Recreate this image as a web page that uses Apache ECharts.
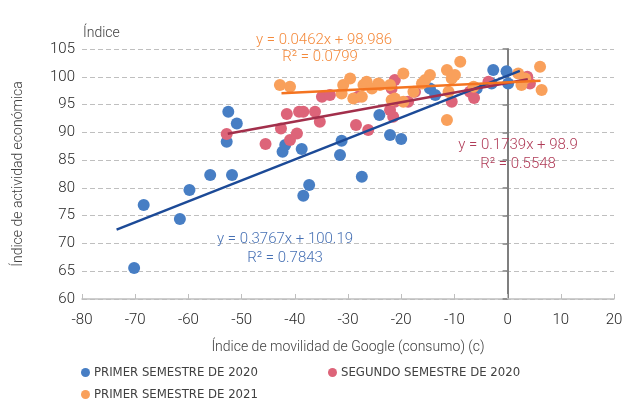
<!DOCTYPE html>
<html>
<head>
<meta charset="utf-8">
<script src="https://cdn.jsdelivr.net/npm/echarts@6/dist/echarts.min.js"></script>
<style>
html, body {
  margin: 0;
  padding: 0;
  background: #fff;
}
#chart {
  width: 626px;
  height: 403px;
}
</style>
</head>
<body>
<div id="chart"></div>
<script>
// puntos: [movilidad, indice]
const primer2020 = [
  [-70.2, 65.6], [-68.4, 76.9], [-61.6, 74.4], [-59.8, 79.6], [-55.9, 82.3],
  [-51.8, 82.3], [-52.5, 93.7], [-50.9, 91.6], [-52.8, 88.3], [-42.3, 86.5],
  [-41.8, 87.7], [-38.7, 87.0], [-37.3, 80.5], [-38.4, 78.6], [-31.2, 88.5],
  [-31.5, 85.9], [-27.4, 82.0], [-24.1, 93.1], [-22.1, 89.5], [-20.0, 88.8],
  [-14.6, 97.9], [-13.6, 96.7], [-5.8, 97.9], [-2.7, 101.2], [-0.2, 101.0],
  [0.1, 98.8], [-3.0, 98.8]
]
const segundo2020 = [
  [-52.8, 89.7], [-45.5, 87.9], [-42.6, 90.7], [-41.5, 93.3], [-40.9, 88.6],
  [-39.6, 89.8], [-39.2, 93.7], [-38.4, 93.7], [-36.2, 93.7], [-35.3, 91.9],
  [-34.9, 96.4], [-33.4, 96.7], [-28.5, 91.3], [-28.1, 96.4], [-26.2, 90.4],
  [-22.1, 94.0], [-21.8, 97.9], [-21.2, 99.4], [-21.2, 95.5], [-21.5, 92.8],
  [-18.7, 95.5], [-17.4, 97.3], [-10.5, 95.5], [-7.1, 97.3], [-6.3, 96.2],
  [-3.6, 99.1], [3.7, 100.0], [4.2, 98.8]
]
const primer2021 = [
  [-42.8, 98.5], [-40.9, 98.2], [-31.2, 97.0], [-30.9, 98.5], [-29.6, 99.7],
  [-29.0, 96.1], [-27.4, 96.4], [-27.1, 98.5], [-26.5, 99.1], [-25.5, 97.9],
  [-24.3, 98.8], [-24.0, 98.5], [-22.1, 98.5], [-21.8, 95.8], [-21.2, 96.1],
  [-19.6, 100.6], [-19.6, 95.5], [-17.7, 97.3], [-16.1, 98.8], [-15.5, 99.4],
  [-14.6, 100.3], [-11.4, 101.2], [-10.5, 99.7], [-11.1, 97.3], [-11.4, 92.2],
  [-9.9, 100.3], [-8.9, 102.7], [-6.4, 98.2], [2.0, 100.6], [2.6, 98.5],
  [3.3, 99.7], [6.1, 101.8], [6.4, 97.6]
]

const seriesNames = ['PRIMER SEMESTRE DE 2020', 'SEGUNDO SEMESTRE DE 2020', 'PRIMER SEMESTRE DE 2021']

// lineas de tendencia: [pendiente, ordenada, x inicial, x final]
const trend2020a = [0.3767, 100.19, -73.5, 2.3]
const trend2020b = [0.1739, 98.9, -52.6, 3.8]
const trend2021a = [0.0462, 98.986, -42.5, 6.2]

const xTicks = { min: -80, max: 20, interval: 10 }
const yTicks = { min: 60, max: 105, interval: 5 }

const font = "Roboto, 'Liberation Sans', sans-serif"
const narrow = "'Liberation Sans Narrow', 'DejaVu Sans Condensed', Roboto, sans-serif"

function trendLine (t) {
  return [[t[2], t[0] * t[2] + t[1]], [t[3], t[0] * t[3] + t[1]]]
}

function legendAt (name, left, top) {
  return {
    data: [name],
    left: left,
    top: top,
    icon: 'circle',
    itemWidth: 9,
    itemHeight: 9,
    itemGap: 6,
    selectedMode: false,
    textStyle: { fontFamily: narrow, fontSize: 13, color: '#404040', padding: [0, 0, 0, -1] }
  }
}

function scatter (name, data, color) {
  return {
    name: name,
    type: 'scatter',
    data: data,
    symbolSize: 12,
    itemStyle: { color: color, opacity: 1 },
    z: 2
  }
}

function line (data, color) {
  return {
    type: 'line',
    data: data,
    showSymbol: false,
    symbol: 'none',
    lineStyle: { color: color, width: 2.5 },
    z: 5,
    silent: true
  }
}

function note (text, x, y, color) {
  return {
    type: 'text',
    x: x,
    y: y,
    style: {
      text: text,
      fill: color,
      font: '300 15px ' + font,
      align: 'center',
      verticalAlign: 'middle'
    },
    z: 10
  }
}

const chart = echarts.init(document.getElementById('chart'))
chart.setOption({
  animation: false,
  grid: { left: 82, right: 12, top: 49, bottom: 104 },
  legend: [
    legendAt(seriesNames[0], 76, 361),
    legendAt(seriesNames[1], 323, 361),
    legendAt(seriesNames[2], 76, 383)
  ],
  xAxis: {
    type: 'value',
    min: xTicks.min,
    max: xTicks.max,
    interval: xTicks.interval,
    name: 'Índice de movilidad de Google (consumo) (c)',
    nameLocation: 'middle',
    nameGap: 41,
    nameTextStyle: { fontFamily: font, fontWeight: 300, fontSize: 14, color: '#404040' },
    axisLine: { onZero: false, lineStyle: { color: '#bfbfbf', width: 1.5 } },
    axisTick: { show: true, inside: true, length: 5, lineStyle: { color: '#bfbfbf' } },
    axisLabel: { fontFamily: font, fontWeight: 300, fontSize: 15, color: '#262626', margin: 14 },
    splitLine: { show: false }
  },
  yAxis: [
    {
      type: 'value',
      min: yTicks.min,
      max: yTicks.max,
      interval: yTicks.interval,
      name: 'Índice de actividad económica',
      nameLocation: 'middle',
      nameGap: 57,
      nameTextStyle: { fontFamily: font, fontWeight: 300, fontSize: 14, color: '#404040' },
      axisLine: { show: false, onZero: false },
      axisTick: { show: false },
      axisLabel: { fontFamily: font, fontWeight: 300, fontSize: 15, color: '#262626', margin: 7 },
      splitLine: { lineStyle: { color: '#bfbfbf', type: [5, 3], width: 1 } }
    },
    {
      type: 'value',
      position: 'left',
      min: yTicks.min,
      max: yTicks.max,
      interval: yTicks.interval,
      axisLine: { show: true, onZero: true, lineStyle: { color: '#7f7f7f', width: 2 } },
      axisTick: { show: true, length: 5, lineStyle: { color: '#7f7f7f', width: 1.5 } },
      axisLabel: { show: false },
      splitLine: { show: false }
    }
  ],
  series: [
    scatter(seriesNames[0], primer2020, '#477ec4'),
    scatter(seriesNames[1], segundo2020, '#dd6479'),
    scatter(seriesNames[2], primer2021, '#f9a05b'),
    line(trendLine(trend2020a), '#1c4a97'),
    line(trendLine(trend2020b), '#a22f4b'),
    line(trendLine(trend2021a), '#f47421')
  ],
  graphic: [
    {
      type: 'text',
      left: 83,
      top: 26,
      style: { text: 'Índice', fill: '#404040', font: '300 14px ' + font }
    },
    note('y = 0.0462x + 98.986', 324, 40, '#f48a3c'),
    note('R² = 0.0799', 320, 57, '#f48a3c'),
    note('y = 0.1739x + 98.9', 518, 145, '#b03c58'),
    note('R² = 0.5548', 518, 164, '#b03c58'),
    note('y = 0.3767x + 100.19', 285, 239, '#4670b4'),
    note('R² = 0.7843', 285, 258, '#4670b4')
  ]
})
</script>
</body>
</html>
